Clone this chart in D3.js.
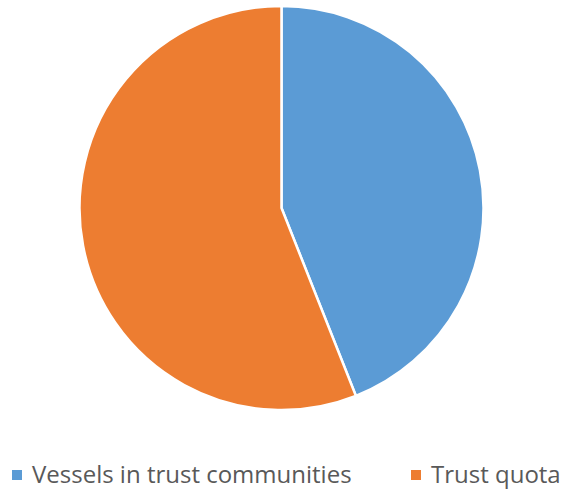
<!DOCTYPE html>
<html>
<head>
<meta charset="utf-8">
<script src="https://cdn.jsdelivr.net/npm/d3@7"></script>
<style>
body{margin:0;background:#fff}
</style>
</head>
<body>
<script>
// slice data
let categories = ["Vessels in trust communities", "Trust quota"]
let values = [44, 56]
let colors = ["#5b9bd5", "#ed7d31"]

let w = 565, h = 489
let cx = 281.5, cy = 208, r = 202

let svg = d3.select("body").append("svg")
    .attr("width", w)
    .attr("height", h)

let pie = d3.pie().sort(null).value(d=>d)
let arc = d3.arc().innerRadius(0).outerRadius(r)

svg.append("g")
    .attr("transform", `translate(${cx},${cy})`)
    .selectAll("path")
    .data(pie(values))
    .enter()
    .append("path")
    .attr("d", arc)
    .attr("fill", (d,i)=>colors[i])
    .attr("stroke", "#fff")
    .attr("stroke-width", 2.5)

// legend
let legendX = [12, 411]
let legend = svg.selectAll(".leg")
    .data(categories)
    .enter()
    .append("g")
    .attr("class", "leg")
    .attr("transform", (d,i)=>`translate(${legendX[i]},475)`)
legend.append("rect")
    .attr("x", 0).attr("y", -5)
    .attr("width", 10).attr("height", 10)
    .attr("fill", (d,i)=>colors[i])
legend.append("text")
    .attr("x", 20).attr("y", 8)
    .attr("font-family", "Open Sans, sans-serif")
    .attr("font-size", 24)
    .attr("fill", "#595959")
    .text(d=>d)
</script>
</body>
</html>
